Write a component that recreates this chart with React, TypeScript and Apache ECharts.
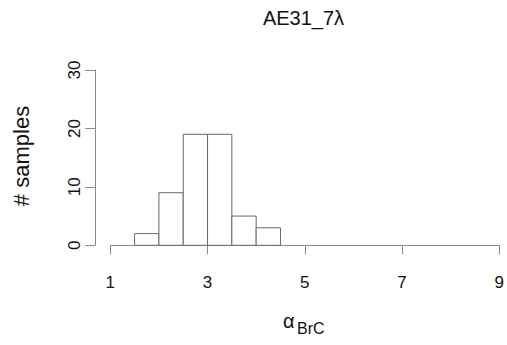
import React, { useEffect, useRef } from "react";
import * as echarts from "echarts";

const binStarts = [1.5, 2.0, 2.5, 3.0, 3.5, 4.0];
const binEnds = [2.0, 2.5, 3.0, 3.5, 4.0, 4.5];
const counts = [2, 9, 19, 19, 5, 3];
const xTicks = [1, 3, 5, 7, 9];
const yTicks = [0, 10, 20, 30];
const titleText = "AE31_7λ";
const yTitle = "# samples";
const xTitleMain = "α";
const xTitleSub = "BrC";

export default function App() {
  const ref = useRef<HTMLDivElement>(null);
  useEffect(() => {
    if (!ref.current) return;
    const chart = echarts.init(ref.current, null, { renderer: "svg" });
    const font = "Liberation Sans, Arial, sans-serif";
    const data = binStarts.map((s, i) => [s, binEnds[i], counts[i]]);
    chart.setOption({
      animation: false,
      backgroundColor: "#ffffff",
      grid: { left: 110.3, right: 7, top: 70, bottom: 99.7, containLabel: false },
      xAxis: {
        type: "value",
        min: xTicks[0],
        max: xTicks[xTicks.length - 1],
        interval: 2,
        offset: 8,
        axisLine: { show: true, lineStyle: { color: "#8a8a8a", width: 1 } },
        axisTick: { show: true, length: 9, lineStyle: { color: "#8a8a8a" } },
        splitLine: { show: false },
        axisLabel: { color: "#111", fontSize: 17, fontFamily: font, margin: 21 },
      },
      yAxis: {
        type: "value",
        min: yTicks[0],
        max: yTicks[yTicks.length - 1],
        interval: 10,
        offset: 15,
        axisLine: { show: true, lineStyle: { color: "#8a8a8a", width: 1 } },
        axisTick: { show: true, length: 10, lineStyle: { color: "#8a8a8a" } },
        splitLine: { show: false },
        axisLabel: { color: "#111", fontSize: 17, fontFamily: font, margin: 21, rotate: 90, verticalAlign: "middle", align: "center" },
      },
      graphic: [
        {
          type: "text",
          x: 303.5,
          y: 18,
          style: { text: titleText, fontSize: 20, fontFamily: font, fill: "#111", align: "center", verticalAlign: "middle" },
        },
        {
          type: "text",
          x: 21,
          y: 156,
          rotation: Math.PI / 2,
          style: { text: yTitle, fontSize: 22, fontFamily: font, fill: "#111", align: "center", verticalAlign: "middle" },
        },
        {
          type: "text",
          x: 283,
          y: 321,
          style: { text: xTitleMain, fontSize: 20, fontFamily: font, fill: "#111", align: "left", verticalAlign: "middle" },
        },
        {
          type: "text",
          x: 297,
          y: 328,
          style: { text: xTitleSub, fontSize: 16, fontFamily: font, fill: "#111", align: "left", verticalAlign: "middle" },
        },
      ],
      series: [
        {
          type: "custom",
          data,
          renderItem: (params: any, api: any) => {
            const p0 = api.coord([api.value(0), api.value(2)]);
            const p1 = api.coord([api.value(1), 0]);
            return {
              type: "rect",
              shape: { x: p0[0], y: p0[1], width: p1[0] - p0[0], height: p1[1] - p0[1] },
              style: { fill: "#ffffff", stroke: "#6a6a6a", lineWidth: 1 },
            };
          },
        },
      ],
    });
    return () => chart.dispose();
  }, []);
  return <div ref={ref} style={{ position: "fixed", left: 0, top: 0, width: 507, height: 345 }} />;
}
